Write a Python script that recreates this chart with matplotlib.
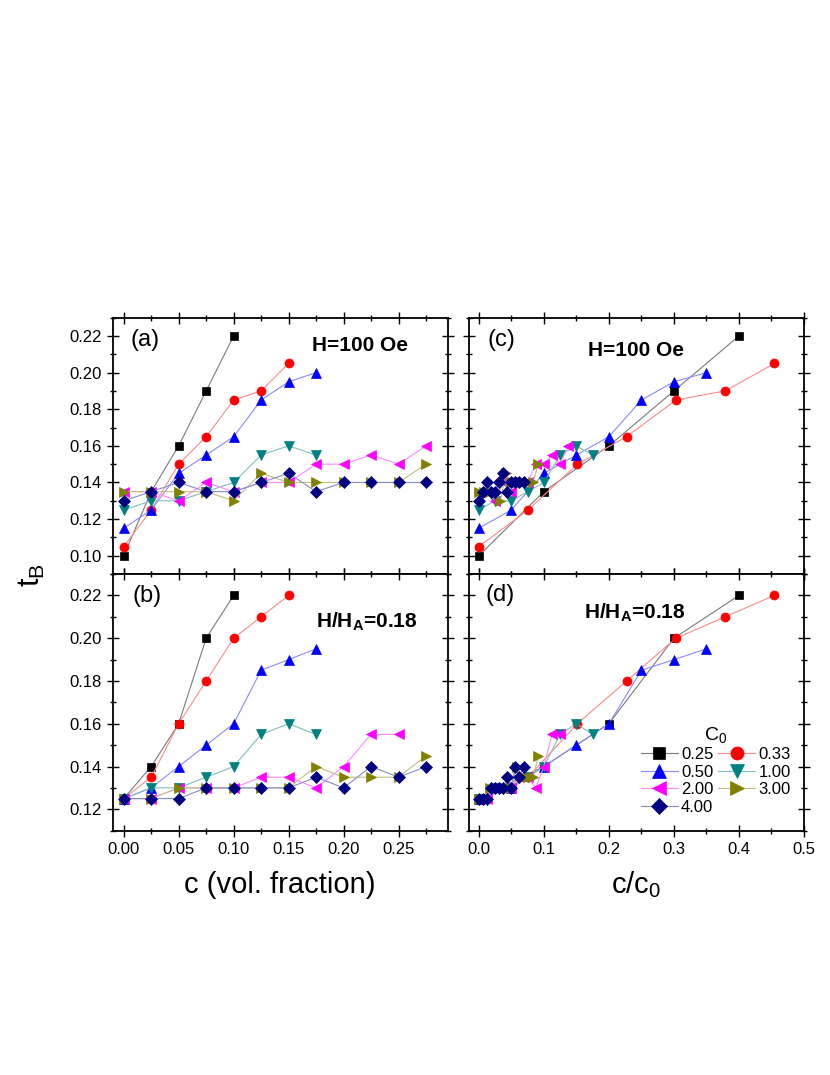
import matplotlib
matplotlib.use('Agg')
import matplotlib.pyplot as plt
from matplotlib.ticker import MultipleLocator, FormatStrFormatter

plt.rcParams['font.family'] = ['Liberation Sans', 'DejaVu Sans']
plt.rcParams['mathtext.fontset'] = 'custom'
plt.rcParams['mathtext.rm'] = 'Liberation Sans'
plt.rcParams['mathtext.it'] = 'Liberation Sans'
plt.rcParams['mathtext.bf'] = 'Liberation Sans:bold'

# volume fractions c
c = [0.0, 0.025, 0.05, 0.075, 0.1, 0.125, 0.15, 0.175, 0.2, 0.225, 0.25, 0.275]
c0_values = [0.25, 0.33, 0.50, 1.00, 2.00, 3.00, 4.00]
c0_labels = ['0.25', '0.33', '0.50', '1.00', '2.00', '3.00', '4.00']

# t_B at H = 100 Oe, one list per c0
tb_h100 = [
    [0.10, 0.135, 0.16, 0.19, 0.22],
    [0.105, 0.125, 0.15, 0.165, 0.185, 0.19, 0.205],
    [0.115, 0.125, 0.145, 0.155, 0.165, 0.185, 0.195, 0.20],
    [0.125, 0.13, 0.13, 0.135, 0.14, 0.155, 0.16, 0.155],
    [0.135, 0.135, 0.13, 0.14, 0.135, 0.14, 0.14, 0.15, 0.15, 0.155, 0.15, 0.16],
    [0.135, 0.135, 0.135, 0.135, 0.13, 0.145, 0.14, 0.14, 0.14, 0.14, 0.14, 0.15],
    [0.13, 0.135, 0.14, 0.135, 0.135, 0.14, 0.145, 0.135, 0.14, 0.14, 0.14, 0.14],
]

# t_B at H/H_A = 0.18
tb_hha = [
    [0.125, 0.14, 0.16, 0.20, 0.22],
    [0.125, 0.135, 0.16, 0.18, 0.20, 0.21, 0.22],
    [0.125, 0.13, 0.14, 0.15, 0.16, 0.185, 0.19, 0.195],
    [0.125, 0.13, 0.13, 0.135, 0.14, 0.155, 0.16, 0.155],
    [0.125, 0.125, 0.13, 0.13, 0.13, 0.135, 0.135, 0.13, 0.14, 0.155, 0.155],
    [0.125, 0.125, 0.13, 0.13, 0.13, 0.13, 0.13, 0.14, 0.135, 0.135, 0.135, 0.145],
    [0.125, 0.125, 0.125, 0.13, 0.13, 0.13, 0.13, 0.135, 0.13, 0.14, 0.135, 0.14],
]

markers = ['s', 'o', '^', 'v', '<', '>', 'D']
colors = ['#000000', '#ff0000', '#0000ff', '#008080', '#ff00ff', '#808000', '#000080']
line_colors = ['#7a7a7a', '#ff8a8a', '#8a8aff', '#80c0c0', '#ff8aff', '#c0c080', '#8a8ac8']
msizes = [5.5, 6.5, 7, 7, 7, 7, 5.8]

fig = plt.figure(figsize=(8.3, 10.75), dpi=100)
ax_a = fig.add_axes([0.1358, 0.4660, 0.4040, 0.2385])
ax_b = fig.add_axes([0.1358, 0.2273, 0.4040, 0.2387])
ax_c = fig.add_axes([0.5651, 0.4660, 0.4036, 0.2385])
ax_d = fig.add_axes([0.5651, 0.2273, 0.4036, 0.2387])


def draw(ax, data, scaled):
    handles = []
    for i, tb in enumerate(data):
        x = c[:len(tb)]
        if scaled:
            x = [v / c0_values[i] for v in x]
        h, = ax.plot(x, tb, color=line_colors[i], lw=0.8, marker=markers[i],
                     ms=msizes[i], mfc=colors[i], mec=colors[i], mew=0.5,
                     label=c0_labels[i])
        handles.append(h)
    return handles


for ax, data, scaled in [(ax_a, tb_h100, False), (ax_b, tb_hha, False),
                         (ax_c, tb_h100, True), (ax_d, tb_hha, True)]:
    draw(ax, data, scaled)
    ax.tick_params(which='both', direction='inout', top=True, right=True,
                   labelsize=12, width=1.0)
    ax.tick_params(which='major', length=9)
    ax.tick_params(which='minor', length=5)
    ax.yaxis.set_major_locator(MultipleLocator(0.02))
    ax.yaxis.set_minor_locator(MultipleLocator(0.01))
    ax.yaxis.set_major_formatter(FormatStrFormatter('%.2f'))
    for s in ax.spines.values():
        s.set_linewidth(1.3)

for ax in (ax_a, ax_b):
    ax.set_xlim(-0.01, 0.295)
    ax.xaxis.set_major_locator(MultipleLocator(0.05))
    ax.xaxis.set_minor_locator(MultipleLocator(0.025))
    ax.xaxis.set_major_formatter(FormatStrFormatter('%.2f'))
for ax in (ax_c, ax_d):
    ax.set_xlim(-0.015, 0.5)
    ax.xaxis.set_major_locator(MultipleLocator(0.1))
    ax.xaxis.set_minor_locator(MultipleLocator(0.05))
    ax.xaxis.set_major_formatter(FormatStrFormatter('%.1f'))
    ax.tick_params(labelleft=False)
for ax in (ax_a, ax_c):
    ax.set_ylim(0.09, 0.23)
    ax.tick_params(labelbottom=False)
for ax in (ax_b, ax_d):
    ax.set_ylim(0.11, 0.23)

ax_a.text(0.052, 0.913, '(a)', transform=ax_a.transAxes, fontsize=17, va='center')
ax_b.text(0.058, 0.914, '(b)', transform=ax_b.transAxes, fontsize=17, va='center')
ax_c.text(0.054, 0.913, '(c)', transform=ax_c.transAxes, fontsize=17, va='center')
ax_d.text(0.048, 0.917, '(d)', transform=ax_d.transAxes, fontsize=17, va='center')

ax_a.text(0.593, 0.89, 'H=100 Oe', transform=ax_a.transAxes, fontsize=15,
          fontweight='bold', va='center')
ax_c.text(0.355, 0.87, 'H=100 Oe', transform=ax_c.transAxes, fontsize=15,
          fontweight='bold', va='center')
ax_b.text(0.606, 0.813, r'H/H$_{\mathbf{A}}$=0.18', transform=ax_b.transAxes,
          fontsize=15, fontweight='bold', va='center')
ax_d.text(0.343, 0.848, r'H/H$_{\mathbf{A}}$=0.18', transform=ax_d.transAxes,
          fontsize=15, fontweight='bold', va='center')

fig.text(0.337, 0.177, 'c (vol. fraction)', fontsize=21, ha='center', va='center')
fig.text(0.766, 0.177, r'c/c$_0$', fontsize=21, ha='center', va='center')
fig.text(0.038, 0.465, r't$_\mathrm{B}$', fontsize=22, ha='center', va='center',
         rotation=90)

h = ax_d.get_lines()
order = [0, 2, 4, 6, 1, 3, 5]
leg = ax_d.legend([h[i] for i in order], [c0_labels[i] for i in order],
                  ncol=2, loc='lower right', bbox_to_anchor=(0.985, 0.03),
                  frameon=False, fontsize=12, title=r'C$_0$',
                  title_fontsize=14, markerscale=1.45, handlelength=2.2,
                  handletextpad=0.2, columnspacing=0.3, labelspacing=0.15,
                  borderpad=0.0)

fig.savefig('out.png', dpi=100)
